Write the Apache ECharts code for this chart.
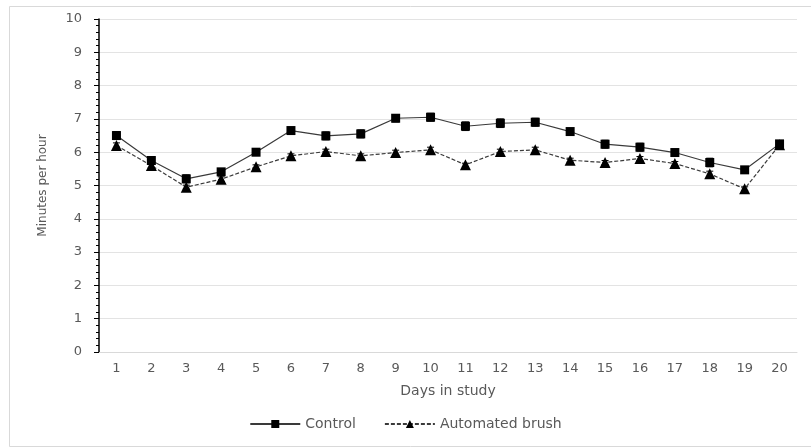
<!DOCTYPE html>
<html>
<head>
<meta charset="utf-8">
<script src="https://cdn.jsdelivr.net/npm/echarts@6/dist/echarts.min.js"></script>
<style>
  html, body { margin: 0; padding: 0; background: #fff; }
  #chart { width: 811px; height: 447px; }
</style>
</head>
<body>
<div id="chart"></div>
<script>
// Days on the x axis
const days = ['1','2','3','4','5','6','7','8','9','10','11','12','13','14','15','16','17','18','19','20'];

// Mean minutes per hour for each group
const controlMean = [6.50, 5.75, 5.20, 5.41, 6.00, 6.65, 6.49, 6.55, 7.02, 7.05, 6.78, 6.87, 6.90, 6.62, 6.24, 6.15, 5.99, 5.69, 5.47, 6.25];
const brushMean   = [6.20, 5.60, 4.95, 5.19, 5.56, 5.89, 6.02, 5.89, 5.99, 6.07, 5.62, 6.02, 6.07, 5.76, 5.69, 5.81, 5.66, 5.35, 4.90, 6.22];

// Standard errors drawn as whiskers
const controlErr = [0.12, 0.08, 0.12, 0.09, 0.10, 0.10, 0.12, 0.12, 0.11, 0.12, 0.13, 0.13, 0.12, 0.08, 0.12, 0.12, 0.08, 0.13, 0.10, 0.10];
const brushErr   = [0.08, 0.06, 0.06, 0.07, 0.06, 0.06, 0.07, 0.06, 0.07, 0.08, 0.05, 0.07, 0.08, 0.06, 0.06, 0.06, 0.06, 0.08, 0.06, 0.06];

const textColor = '#595959';
const font = 'DejaVu Sans';

function errorSeries(name, means, errs) {
  return {
    type: 'custom',
    name: name + ' error',
    z: 3,
    silent: true,
    data: means.map((m, i) => [i, m - errs[i], m + errs[i]]),
    renderItem: function (params, api) {
      const lo = api.coord([api.value(0), api.value(1)]);
      const hi = api.coord([api.value(0), api.value(2)]);
      const half = 3.5;
      const style = { stroke: '#000', lineWidth: 1 };
      return {
        type: 'group',
        children: [
          { type: 'line', shape: { x1: lo[0], y1: lo[1], x2: hi[0], y2: hi[1] }, style },
          { type: 'line', shape: { x1: lo[0] - half, y1: lo[1], x2: lo[0] + half, y2: lo[1] }, style },
          { type: 'line', shape: { x1: hi[0] - half, y1: hi[1], x2: hi[0] + half, y2: hi[1] }, style }
        ]
      };
    }
  };
}

const chart = echarts.init(document.getElementById('chart'));
chart.setOption({
  animation: false,
  backgroundColor: '#fff',
  graphic: [{
    type: 'rect',
    left: 7, top: 4,
    shape: { width: 802, height: 440 },
    style: { fill: 'none', stroke: '#d9d9d9', lineWidth: 1 },
    silent: true
  }],
  grid: { left: 99, right: 14, top: 19, bottom: 95 },
  legend: {
    data: ['Control', 'Automated brush'],
    bottom: 11,
    left: 'center',
    itemWidth: 50,
    itemHeight: 10,
    itemGap: 28,
    textStyle: { color: textColor, fontFamily: font, fontSize: 14 }
  },
  xAxis: {
    type: 'category',
    data: days,
    boundaryGap: true,
    name: 'Days in study',
    nameLocation: 'middle',
    nameGap: 32,
    nameTextStyle: { color: textColor, fontFamily: font, fontSize: 14 },
    axisLine: { lineStyle: { color: '#d9d9d9', width: 1 } },
    axisTick: { show: false },
    axisLabel: { color: textColor, fontFamily: font, fontSize: 13, margin: 10 }
  },
  yAxis: {
    type: 'value',
    min: 0, max: 10, interval: 1,
    name: 'Minutes per hour',
    nameLocation: 'middle',
    nameGap: 50,
    nameTextStyle: { color: textColor, fontFamily: font, fontSize: 12 },
    axisLine: { show: true, lineStyle: { color: '#000', width: 1.5 } },
    axisTick: { show: true, length: 5, lineStyle: { color: '#000' } },
    minorTick: { show: true, splitNumber: 5, length: 3, lineStyle: { color: '#000' } },
    splitLine: { lineStyle: { color: '#e3e3e3', width: 1 } },
    axisLabel: { color: textColor, fontFamily: font, fontSize: 13, margin: 17 }
  },
  series: [
    errorSeries('Control', controlMean, controlErr),
    errorSeries('Automated brush', brushMean, brushErr),
    {
      name: 'Control',
      type: 'line',
      data: controlMean,
      symbol: 'rect',
      symbolSize: 9,
      z: 4,
      lineStyle: { color: '#3a3a3a', width: 1.2, type: 'solid' },
      itemStyle: { color: '#000' }
    },
    {
      name: 'Automated brush',
      type: 'line',
      data: brushMean,
      symbol: 'triangle',
      symbolSize: 11,
      z: 4,
      lineStyle: { color: '#3a3a3a', width: 1.2, type: [4, 2] },
      itemStyle: { color: '#000' }
    }
  ]
});
</script>
</body>
</html>
